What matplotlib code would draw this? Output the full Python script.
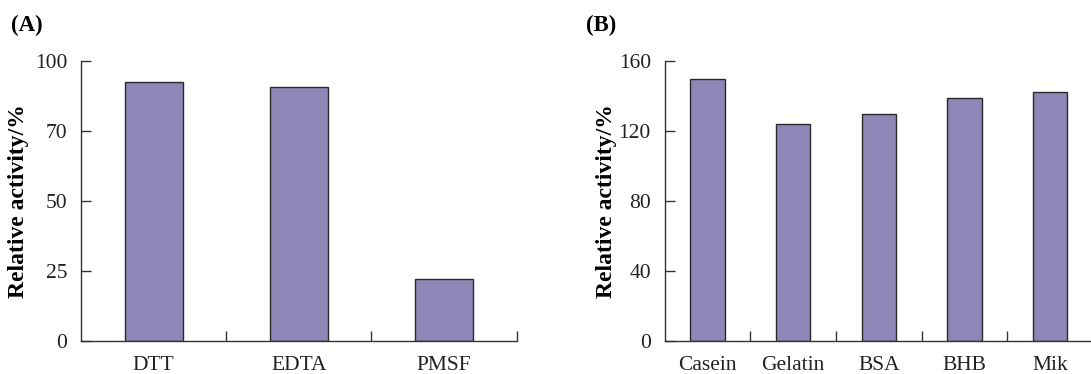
import matplotlib
matplotlib.use("Agg")
import matplotlib.pyplot as plt
from matplotlib.ticker import FixedLocator

plt.rcParams['font.family'] = ['Liberation Serif', 'DejaVu Serif']

cats_a = ["DTT", "EDTA", "PMSF"]
vals_a = [92.6, 90.6, 22.0]
yticks_a = [0, 25, 50, 75, 100]
ylabels_a = ["0", "25", "50", "70", "100"]

cats_b = ["Casein", "Gelatin", "BSA", "BHB", "Mik"]
vals_b = [149.8, 124.2, 129.7, 138.7, 142.1]
yticks_b = [0, 40, 80, 120, 160]
ylabels_b = ["0", "40", "80", "120", "160"]

bar_color = "#8E86B6"
edge_color = "#2a2a2a"

W = 1091.0
fig = plt.figure(figsize=(10.91, 3.74), dpi=100)

def panel(rect, cats, vals, yt, yl, ymax, letter, letter_x, label_right_px):
    ax = fig.add_axes(rect)
    n = len(cats)
    x = list(range(n))
    ax.bar(x, vals, width=0.4, color=bar_color, edgecolor=edge_color, linewidth=1.0, zorder=2)
    ax.set_xlim(-0.5, n - 0.5)
    ax.set_ylim(0, ymax)
    ax.spines['top'].set_visible(False)
    ax.spines['right'].set_visible(False)
    for s in ('left', 'bottom'):
        ax.spines[s].set_linewidth(1.0)
        ax.spines[s].set_color('#333333')
    ax.set_yticks(yt)
    ax.set_yticklabels(yl, fontsize=15.5)
    ax.tick_params(axis='y', direction='in', length=7, width=1.0, pad=10, colors='#333333', labelcolor='#222222')
    ax.set_xticks(x)
    ax.set_xticklabels(cats, fontsize=15.5)
    ax.tick_params(axis='x', which='major', length=0, pad=11, labelcolor='#222222')
    bounds = [i + 0.5 for i in range(n)]
    ax.xaxis.set_minor_locator(FixedLocator(bounds))
    ax.tick_params(axis='x', which='minor', direction='in', length=7, width=1.0, colors='#333333')
    ax.set_ylabel("Relative activity/%", fontsize=17, fontweight='bold')
    left_px = rect[0] * W
    width_px = rect[2] * W
    ax.yaxis.set_label_coords((label_right_px - left_px) / width_px, 0.5)
    fig.text(letter_x, 0.96, letter, fontsize=16.5, fontweight='bold', ha='left', va='top')
    return ax

panel([0.0742, 0.0882, 0.3994, 0.7487], cats_a, vals_a, yticks_a, ylabels_a, 100, "(A)", 0.010, 29)
panel([0.6093, 0.0882, 0.3925, 0.7487], cats_b, vals_b, yticks_b, ylabels_b, 160, "(B)", 0.537, 617)

fig.savefig("out.png", dpi=100)
